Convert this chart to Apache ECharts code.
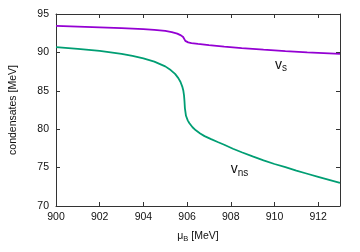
<!DOCTYPE html>
<html><head><meta charset="utf-8">
<script src="https://cdn.jsdelivr.net/npm/echarts@6/dist/echarts.min.js"></script>
<style>html,body{margin:0;padding:0;background:#fff}#c{width:360px;height:252px}</style>
</head><body><div id="c"></div>
<script>
var muS = [900, 901, 902, 903, 904, 904.5, 905, 905.3, 905.55, 905.72, 905.82, 905.87, 905.92, 905.97, 906.05, 906.2, 906.5, 907, 907.7, 908.5, 909.5, 910.5, 911.5, 912.5, 913];
var vS  = [93.45, 93.36, 93.26, 93.15, 93.02, 92.93, 92.8, 92.65, 92.45, 92.22, 92.0, 91.75, 91.5, 91.38, 91.3, 91.2, 91.1, 90.95, 90.75, 90.55, 90.35, 90.16, 90.0, 89.87, 89.8];
var muNS = [900, 901, 902, 903, 903.5, 904, 904.5, 905, 905.25, 905.45, 905.6, 905.7, 905.78, 905.83, 905.86, 905.88, 905.9, 905.95, 906.03, 906.1, 906.25, 906.4, 906.6, 906.8, 907.1, 907.4, 907.7, 908.1, 908.5, 909, 909.5, 910, 910.5, 911, 911.5, 912, 912.5, 913];
var vNS  = [90.7, 90.47, 90.2, 89.82, 89.55, 89.22, 88.8, 88.18, 87.7, 87.2, 86.65, 86.15, 85.55, 85.0, 84.4, 83.7, 82.75, 81.75, 81.15, 80.8, 80.25, 79.85, 79.45, 79.1, 78.7, 78.33, 77.97, 77.45, 77.0, 76.45, 75.95, 75.47, 75.05, 74.6, 74.2, 73.8, 73.4, 73.0];
var xTicks = [900, 902, 904, 906, 908, 910, 912];
var yTicks = [70, 75, 80, 85, 90, 95];
var labelS = {x: 910.3, y: 88.4};
var labelNS = {x: 908.4, y: 74.75};

function zip(a, b){ return a.map(function(v,i){ return [v, b[i]]; }); }
var font = '"Liberation Sans", Arial, sans-serif';
var axisCol = '#333';
function mk(pos, isX, showLabel){
  return {
    type: 'value', position: pos,
    min: isX ? xTicks[0] : yTicks[0],
    max: isX ? 913 : yTicks[yTicks.length-1],
    interval: isX ? 2 : 5,
    axisLine: {show: true, onZero: false, lineStyle: {color: axisCol, width: 1}},
    axisTick: {show: true, inside: true, length: 4, lineStyle: {color: axisCol}},
    splitLine: {show: false},
    axisLabel: {show: showLabel, color: '#111', fontSize: 10.5, fontFamily: font, margin: isX ? 6 : 7, showMaxLabel: isX ? false : true}
  };
}
var xa = mk('bottom', true, true);
xa.name = '{a|μ}{b|B}{a| [MeV]}';
xa.nameLocation = 'middle';
xa.nameGap = 23;
xa.nameTextStyle = {rich: {a: {fontSize: 10.5, fontFamily: font, color: '#111'}, b: {fontSize: 7.5, fontFamily: font, color: '#111', verticalAlign: 'bottom', padding: [6,0,0,0]}}};
var xa2 = mk('top', true, false);
var ya = mk('left', false, true);
ya.name = 'condensates [MeV]';
ya.nameLocation = 'middle';
ya.nameGap = 37;
ya.nameTextStyle = {fontSize: 10.5, fontFamily: font, color: '#111'};
var ya2 = mk('right', false, false);

var chart = echarts.init(document.getElementById('c'), null, {renderer: 'canvas'});
chart.setOption({
  animation: false,
  grid: {left: 48, right: 20, top: 14, bottom: 46, containLabel: false},
  xAxis: [xa, xa2],
  yAxis: [ya, ya2],
  series: [
    {type: 'line', data: zip(muS, vS), showSymbol: false, smooth: false,
     lineStyle: {color: '#9400d3', width: 1.8}, itemStyle: {color: '#9400d3'}},
    {type: 'line', data: zip(muNS, vNS), showSymbol: false, smooth: false,
     lineStyle: {color: '#009e73', width: 1.8}, itemStyle: {color: '#009e73'}}
  ]
});
function lab(pt, main, sub){
  var p = chart.convertToPixel({xAxisIndex: 0, yAxisIndex: 0}, [pt.x, pt.y]);
  return {type: 'text', x: p[0], y: p[1], style: {
    text: '{v|' + main + '}{s|' + sub + '}', align: 'center', verticalAlign: 'middle',
    rich: {v: {fontSize: 14, fontFamily: font, fill: '#111'}, s: {fontSize: 10, fontFamily: font, fill: '#111', padding: [8,0,0,0]}}}};
}
chart.setOption({graphic: [lab(labelS, 'v', 's'), lab(labelNS, 'v', 'ns')]});
</script></body></html>
